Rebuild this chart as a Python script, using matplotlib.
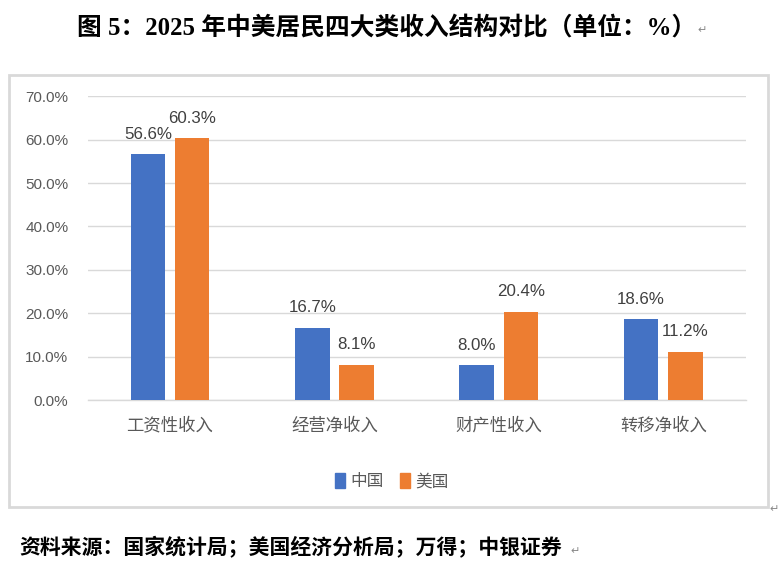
import numpy as np
import matplotlib as mpl
import matplotlib.pyplot as plt
from matplotlib.patches import Rectangle, Patch

mpl.rcParams['font.family'] = ['Liberation Sans', 'Noto Sans CJK SC', 'DejaVu Sans']

# Data
categories = ['工资性收入', '经营净收入', '财产性收入', '转移净收入']
china = [56.6, 16.7, 8.0, 18.6]
usa = [60.3, 8.1, 20.4, 11.2]
series_names = ['中国', '美国']
yticks = [0, 10, 20, 30, 40, 50, 60, 70]

c_cn = '#4472C4'
c_us = '#ED7D31'
grey = '#595959'
grid_c = '#D9D9D9'

fig = plt.figure(figsize=(7.84, 5.66), dpi=100)
ax = fig.add_axes([0.112, 0.293, 0.839, 0.537])

x = np.arange(len(categories))
w = 0.21
off = 0.135
b1 = ax.bar(x - off, china, width=w, color=c_cn, zorder=3)
b2 = ax.bar(x + off, usa, width=w, color=c_us, zorder=3)

for bars, vals in [(b1, china), (b2, usa)]:
    for r, v in zip(bars, vals):
        ax.annotate('{:.1f}%'.format(v), (r.get_x() + r.get_width() / 2, v),
                    xytext=(0, 9), textcoords='offset points',
                    ha='center', va='bottom', fontsize=12.2, color='#404040')

ax.set_xlim(-0.5, len(categories) - 0.5)
ax.set_ylim(0, 70)
ax.set_yticks(yticks)
ax.set_yticklabels(['{:.1f}%'.format(t) for t in yticks], fontsize=11, color=grey)
ax.set_xticks(x)
ax.set_xticklabels(categories, fontsize=12.5, color=grey)
ax.tick_params(axis='both', length=0)
ax.tick_params(axis='y', pad=14)
ax.tick_params(axis='x', pad=12)
ax.grid(axis='y', color=grid_c, lw=1, zorder=0)
for s in ['top', 'right', 'left']:
    ax.spines[s].set_visible(False)
ax.spines['bottom'].set_color(grid_c)
ax.spines['bottom'].set_linewidth(1)

# Legend
handles = [Patch(color=c_cn), Patch(color=c_us)]
leg = fig.legend(handles, series_names, loc='center', bbox_to_anchor=(0.5, 0.150),
                 ncol=2, frameon=False, fontsize=12, handlelength=0.55, handleheight=1.0,
                 handletextpad=0.35, columnspacing=1.0)
for t in leg.get_texts():
    t.set_color(grey)

# Chart box border
fig.patches.append(Rectangle((0.0115, 0.104), 0.968, 0.7635, transform=fig.transFigure,
                             fill=False, edgecolor=grid_c, lw=2))

# Title and source
title_fam = ['Liberation Serif', 'Noto Sans CJK SC', 'DejaVu Sans']
fig.text(0.493, 0.952, '图 5：2025 年中美居民四大类收入结构对比（单位：%）',
         ha='center', va='center', fontsize=17.8, fontweight='bold', family=title_fam)
fig.text(0.889, 0.946, '↵', ha='left', va='center', fontsize=8, color='#888888',
         family=['DejaVu Sans'])
fig.text(0.025, 0.031, '资料来源：国家统计局；美国经济分析局；万得；中银证券',
         ha='left', va='center', fontsize=15.0, fontweight='bold', family=title_fam)
fig.text(0.728, 0.027, '↵', ha='left', va='center', fontsize=8, color='#888888',
         family=['DejaVu Sans'])
fig.text(0.981, 0.101, '↵', ha='left', va='center', fontsize=8, color='#888888',
         family=['DejaVu Sans'])

fig.savefig('out.png', dpi=100)
plt.close()
